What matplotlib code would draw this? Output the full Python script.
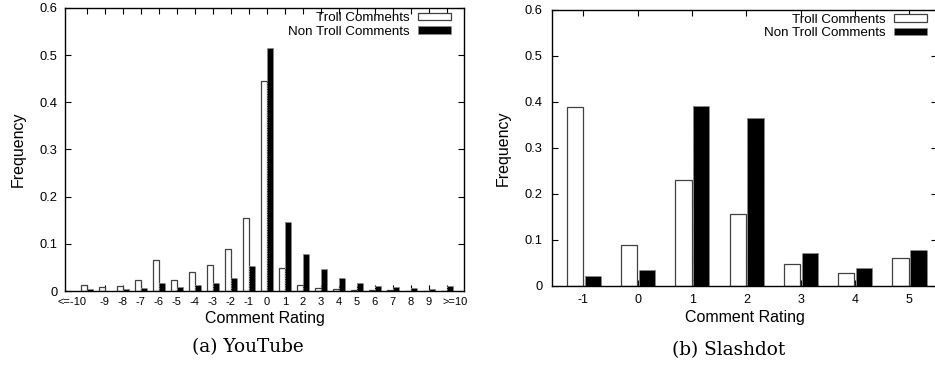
import numpy as np
import matplotlib
matplotlib.use("Agg")
import matplotlib.pyplot as plt
from matplotlib.transforms import ScaledTranslation

plt.rcParams['font.family'] = ['Liberation Sans', 'DejaVu Sans']

# YouTube comment rating distribution
yt_ratings = list(range(-10, 11))
yt_labels = ['<=-10'] + [str(r) for r in range(-9, 10)] + ['>=10']
yt_troll = [0.013, 0.0075, 0.0105, 0.024, 0.065, 0.024, 0.041, 0.0555, 0.088, 0.155,
            0.445, 0.049, 0.013, 0.007, 0.005, 0.003, 0.002, 0.0015, 0.001, 0.001, 0.0005]
yt_nontroll = [0.0035, 0.001, 0.0035, 0.0063, 0.016, 0.0077, 0.012, 0.016, 0.0275, 0.054,
               0.515, 0.146, 0.0795, 0.0465, 0.0275, 0.017, 0.011, 0.0085, 0.006, 0.004, 0.01]

# Slashdot comment rating distribution
sd_ratings = [-1, 0, 1, 2, 3, 4, 5]
sd_labels = [str(r) for r in sd_ratings]
sd_troll = [0.389, 0.088, 0.231, 0.156, 0.048, 0.028, 0.060]
sd_nontroll = [0.022, 0.0355, 0.390, 0.365, 0.071, 0.040, 0.078]

series_names = ['Troll Comments', 'Non Troll Comments']
y_ticks = [0, 0.1, 0.2, 0.3, 0.4, 0.5, 0.6]
y_ticklabels = ['0', '0.1', '0.2', '0.3', '0.4', '0.5', '0.6']

W, H = 935, 365
fig = plt.figure(figsize=(W / 100, H / 100), dpi=100)


def px_axes(l, t, r, b):
    return fig.add_axes([l / W, 1 - b / H, (r - l) / W, (b - t) / H])


ax1 = px_axes(65, 8, 464, 291)
ax2 = px_axes(552, 9.5, 937, 286)


def draw_panel(ax, x, troll, nontroll, width, off_t, off_n, legend_shift):
    x = np.asarray(x, dtype=float)
    ax.bar(x + off_t, troll, width=width, color='white', edgecolor='#404040',
           linewidth=0.9, label=series_names[0], zorder=2)
    ax.bar(x + off_n, nontroll, width=width, color='black', edgecolor='#8c8c8c',
           linewidth=0.7, linestyle=(0, (1.5, 1)), label=series_names[1], zorder=2)
    ax.set_ylim(0, 0.6)
    ax.set_yticks(y_ticks, y_ticklabels)
    ax.tick_params(axis='both', direction='in', top=True, right=True, length=4,
                   width=0.8, color='black')
    for s in ax.spines.values():
        s.set_linewidth(1.0)
    # legend sits in the upper right corner, sample boxes after the text
    bbox = ax.get_position()
    dx = legend_shift / (bbox.width * W)
    dy = 0.5 / (bbox.height * H)
    ax.legend(loc='upper right', bbox_to_anchor=(1.0 - dx, 1.0 + dy), frameon=False,
              markerfirst=False, fontsize=9.6, handlelength=2.5,
              handleheight=0.45, handletextpad=0.6, labelspacing=0.12,
              borderaxespad=0.0, borderpad=0.35)


draw_panel(ax1, yt_ratings, yt_troll, yt_nontroll, 0.32, -0.165, 0.175, 8)
ax1.set_xlim(-11.22, 10.97)
ax1.set_xticks(yt_ratings, yt_labels)
ax1.tick_params(axis='x', labelsize=8, pad=4.5)
ax1.tick_params(axis='y', labelsize=9.3, pad=5.5)
xt = ax1.get_xticklabels()
xt[0].set_ha('right')
xt[-1].set_ha('left')
xt[-1].set_transform(xt[-1].get_transform() + ScaledTranslation(-0.045, 0, fig.dpi_scale_trans))
ax1.set_xlabel('Comment Rating', fontsize=11.5, labelpad=3)
ax1.set_ylabel('Frequency', fontsize=11.5, labelpad=10)

draw_panel(ax2, sd_ratings, sd_troll, sd_nontroll, 0.30, -0.16, 0.17, 5)
ax2.set_xlim(-1.58, 5.51)
ax2.set_xticks(sd_ratings, sd_labels)
ax2.tick_params(axis='x', labelsize=9, pad=5.5)
ax2.tick_params(axis='y', labelsize=9.3, pad=7)
ax2.set_xlabel('Comment Rating', fontsize=11.5, labelpad=3)
ax2.set_ylabel('Frequency', fontsize=11.5, labelpad=10)

fig.text(248 / W, 1 - 347 / H, '(a) YouTube', family='DejaVu Serif', fontsize=13.3,
         ha='center', va='center')
fig.text(729 / W, 1 - 350 / H, '(b) Slashdot', family='DejaVu Serif', fontsize=13.3,
         ha='center', va='center')

fig.savefig('out.png', dpi=100)
